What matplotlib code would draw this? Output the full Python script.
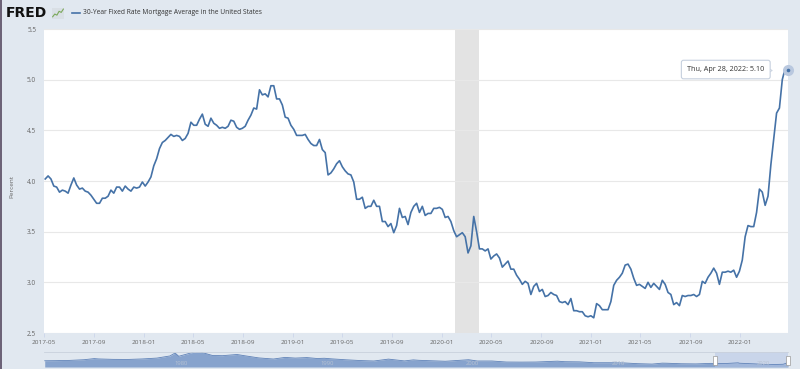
# FRED chart: 30-Year Fixed Rate Mortgage Average, May 2017 - Apr 2022
import pandas as pd
import matplotlib
matplotlib.use('Agg')
import matplotlib.pyplot as plt
import matplotlib.dates as mdates
import matplotlib.transforms as mtransforms
from matplotlib.patches import Rectangle
from matplotlib.lines import Line2D

plt.rcParams['font.family'] = ['Open Sans', 'DejaVu Sans']

# weekly values (percent), one list per calendar year
rate_2017 = [4.02, 4.05, 4.02, 3.95, 3.94, 3.89, 3.91, 3.90, 3.88, 3.96, 4.03, 3.96,
             3.92, 3.93, 3.90, 3.89, 3.86, 3.82, 3.78, 3.78, 3.83, 3.83, 3.85, 3.91,
             3.88, 3.94, 3.94, 3.90, 3.95, 3.92, 3.90, 3.94, 3.93, 3.94, 3.99]
rate_2018 = [3.95, 3.99, 4.04, 4.15, 4.22, 4.32, 4.38, 4.40, 4.43, 4.46, 4.44, 4.45,
             4.44, 4.40, 4.42, 4.47, 4.58, 4.55, 4.55, 4.61, 4.66, 4.56, 4.54, 4.62,
             4.57, 4.55, 4.52, 4.53, 4.52, 4.54, 4.60, 4.59, 4.53, 4.51, 4.52, 4.54,
             4.60, 4.65, 4.72, 4.71, 4.90, 4.85, 4.86, 4.83, 4.94, 4.94, 4.81, 4.81,
             4.75, 4.63, 4.62, 4.55]
rate_2019 = [4.51, 4.45, 4.45, 4.45, 4.46, 4.41, 4.37, 4.35, 4.35, 4.41, 4.31, 4.28,
             4.06, 4.08, 4.12, 4.17, 4.20, 4.14, 4.10, 4.07, 4.06, 3.99, 3.82, 3.82,
             3.84, 3.73, 3.75, 3.75, 3.81, 3.75, 3.75, 3.60, 3.60, 3.55, 3.58, 3.49,
             3.56, 3.73, 3.64, 3.65, 3.57, 3.69, 3.75, 3.78, 3.69, 3.75, 3.66, 3.68,
             3.68, 3.73, 3.73, 3.74]
rate_2020 = [3.72, 3.64, 3.65, 3.60, 3.51, 3.45, 3.47, 3.49, 3.45, 3.29, 3.36, 3.65,
             3.50, 3.33, 3.33, 3.31, 3.33, 3.23, 3.26, 3.28, 3.24, 3.15, 3.18, 3.21,
             3.13, 3.13, 3.07, 3.03, 2.98, 3.01, 2.99, 2.88, 2.96, 2.99, 2.91, 2.93,
             2.86, 2.87, 2.90, 2.88, 2.87, 2.81, 2.80, 2.81, 2.78, 2.84, 2.72, 2.72,
             2.71, 2.71, 2.67, 2.66, 2.67]
rate_2021 = [2.65, 2.79, 2.77, 2.73, 2.73, 2.73, 2.81, 2.97, 3.02, 3.05, 3.09, 3.17,
             3.18, 3.13, 3.04, 2.97, 2.98, 2.96, 2.94, 3.00, 2.95, 2.99, 2.96, 2.93,
             3.02, 2.98, 2.90, 2.88, 2.78, 2.80, 2.77, 2.87, 2.86, 2.87, 2.87, 2.88,
             2.86, 2.88, 3.01, 2.99, 3.05, 3.09, 3.14, 3.09, 2.98, 3.10, 3.10, 3.11,
             3.10, 3.12, 3.05, 3.11]
rate_2022 = [3.22, 3.45, 3.56, 3.55, 3.55, 3.69, 3.92, 3.89, 3.76, 3.85, 4.16, 4.42,
             4.67, 4.72, 5.00, 5.11, 5.10]

rates = rate_2017 + rate_2018 + rate_2019 + rate_2020 + rate_2021 + rate_2022
dates = pd.date_range('2017-05-04', periods=len(rates), freq='7D')

recession_start = '2020-02-01'
recession_end = '2020-04-01'
y_ticks = [2.5, 3.0, 3.5, 4.0, 4.5, 5.0, 5.5]

# navigator (whole history, rough read of the mini chart)
nav_years = [1971.3, 1972, 1973, 1974, 1974.7, 1975, 1976, 1977, 1978, 1979, 1979.9,
             1980.25, 1980.5, 1981, 1981.75, 1982, 1982.8, 1983.5, 1984.5, 1985, 1986,
             1987, 1987.8, 1988.5, 1989.3, 1990, 1990.5, 1991, 1992, 1993, 1993.9,
             1994.9, 1996, 1996.6, 1997, 1998.8, 1999, 2000.4, 2001, 2002, 2003, 2004,
             2005, 2006.5, 2007, 2008, 2009, 2010, 2011, 2012, 2013, 2013.7, 2014,
             2015, 2016, 2017, 2018, 2018.9, 2019, 2020, 2021, 2022, 2022.33]
nav_rates = [7.3, 7.4, 7.7, 8.5, 9.8, 9.4, 8.9, 8.8, 9.4, 10.4, 12.9,
             16.3, 12.5, 14.8, 18.4, 17.4, 13.5, 13.2, 14.6, 13.2, 10.6,
             9.3, 11.2, 10.4, 11.0, 9.9, 10.2, 9.5, 8.4, 7.5, 7.0,
             9.2, 7.1, 8.3, 7.8, 6.7, 6.9, 8.5, 7.0, 7.0, 5.8, 5.7,
             5.8, 6.8, 6.2, 6.0, 5.0, 5.0, 4.8, 3.9, 3.4, 4.5, 4.4,
             3.8, 3.6, 4.2, 4.0, 4.9, 4.4, 3.7, 2.7, 3.2, 5.1]
nav_labels = [1980, 1990, 2000, 2010, 2020]
nav_window = (2017.34, 2022.33)

W, H = 800, 369
bg = '#e1e8f0'
blue = '#4572a7'
grey_txt = '#666666'


def box(x0, y0, x1, y1):
    # pixel box (top-left origin) -> figure fraction rect
    return [x0 / W, 1 - y1 / H, (x1 - x0) / W, (y1 - y0) / H]


fig = plt.figure(figsize=(8, 3.69), dpi=100, facecolor=bg)

# main chart
ax = fig.add_axes(box(44, 29, 788, 333))
ax.set_facecolor('white')
ax.axvspan(pd.Timestamp(recession_start), pd.Timestamp(recession_end),
           color='#e3e3e3', lw=0, zorder=0)
ax.plot(dates, rates, color=blue, lw=1.2, solid_joinstyle='round', zorder=3)
ax.set_xlim(pd.Timestamp('2017-05-01'), dates[-1])
ax.set_ylim(2.5, 5.5)
ax.set_yticks(y_ticks)
ax.set_yticklabels([f'{v:.1f}' for v in y_ticks])
ax.grid(axis='y', color='#e8e8e8', lw=0.8, zorder=1)
for s in ax.spines.values():
    s.set_visible(False)
ax.xaxis.set_major_locator(mdates.MonthLocator(bymonth=[1, 5, 9]))
ax.xaxis.set_major_formatter(mdates.DateFormatter('%Y-%m'))
ax.tick_params(axis='x', length=3, width=0.6, color='#ccd6eb', pad=2.3,
               labelsize=4.6, labelcolor=grey_txt)
ax.tick_params(axis='y', length=0, pad=5.6, labelsize=4.7, labelcolor=grey_txt)
fig.text(12 / W, 1 - 186 / H, 'Percent', rotation=90, ha='center', va='center',
         fontsize=4.6, color=grey_txt)

# last point with halo and tooltip
ax.plot(dates[-1], rates[-1], 'o', ms=8, color='#b9c8df', mec='none', clip_on=False, zorder=4)
ax.plot(dates[-1], rates[-1], 'o', ms=2.6, color=blue, mec='none', clip_on=False, zorder=5)
ax.annotate(f'Thu, Apr 28, 2022: {rates[-1]:.2f}', xy=(dates[-1], rates[-1]),
            xytext=(-17, 0), textcoords='offset points', ha='right', va='center',
            fontsize=5.2, color='#333333', zorder=6,
            bbox=dict(boxstyle='round,pad=0.8,rounding_size=0.3', fc='white',
                      ec='#c6d0de', lw=0.8))
# little notch of the tooltip pointing at the point
notch = ax.transData + mtransforms.ScaledTranslation(-14 / 72, 0, fig.dpi_scale_trans)
ax.plot(dates[-1], rates[-1], marker=(3, 0, -90), ms=4, mfc='white', mec='#c6d0de',
        mew=0.6, ls='none', clip_on=False, zorder=5, transform=notch)

# header: FRED logo + legend
fig.text(6 / W, 1 - 13 / H, 'FRED', fontsize=10, fontweight='bold',
         family='DejaVu Sans', va='center', ha='left', color='#111111')
iax = fig.add_axes(box(52, 8, 64, 19))
iax.set_facecolor('#d9dfe5')
iax.plot([0, 1, 2, 3, 4, 5], [0.2, 0.45, 0.35, 0.7, 0.6, 0.9], color='#7aa85a', lw=0.8)
iax.set_xlim(-0.3, 5.3)
iax.set_ylim(0, 1)
iax.set_xticks([])
iax.set_yticks([])
for s in iax.spines.values():
    s.set_visible(False)
fig.add_artist(Line2D([72 / W, 80 / W], [1 - 13 / H] * 2, color=blue, lw=1.2))
fig.text(83 / W, 1 - 13 / H, '30-Year Fixed Rate Mortgage Average in the United States',
         fontsize=4.8, color='#333333', va='center', ha='left')

# navigator
nax = fig.add_axes(box(44, 352, 788, 367))
nax.patch.set_alpha(0)
nax.fill_between(nav_years, nav_rates, 0, color='#87a3cd', lw=0)
nax.plot(nav_years, nav_rates, color='#5f82b8', lw=0.6)
nax.axvspan(nav_window[0], nav_window[1], color='#b6c7e6', alpha=0.55, lw=0)
nax.set_xlim(1971.25, 2022.33)
nax.set_ylim(0, 17.5)
nax.axis('off')
for yr in nav_labels:
    nax.annotate(str(yr), (yr, 0), xytext=(2.2, 1.0), textcoords='offset points',
                 ha='left', va='bottom', fontsize=4.2, color='#b7c2d2', zorder=4)
tr = mtransforms.blended_transform_factory(nax.transData, nax.transAxes)
for edge in nav_window:
    nax.add_patch(Rectangle((edge - 0.14, 0.15), 0.28, 0.6, transform=tr,
                            fc='white', ec='#999999', lw=0.5, clip_on=False, zorder=5))
fig.add_artist(Line2D([44 / W, 788 / W], [1 - 352 / H] * 2, color='#c9d1dc', lw=0.6))

# window border on the left
fig.add_artist(Rectangle((0, 0), 2 / W, 1, transform=fig.transFigure,
                         color='#6d6378', lw=0))

fig.savefig('out.png', dpi=100, facecolor=bg)
